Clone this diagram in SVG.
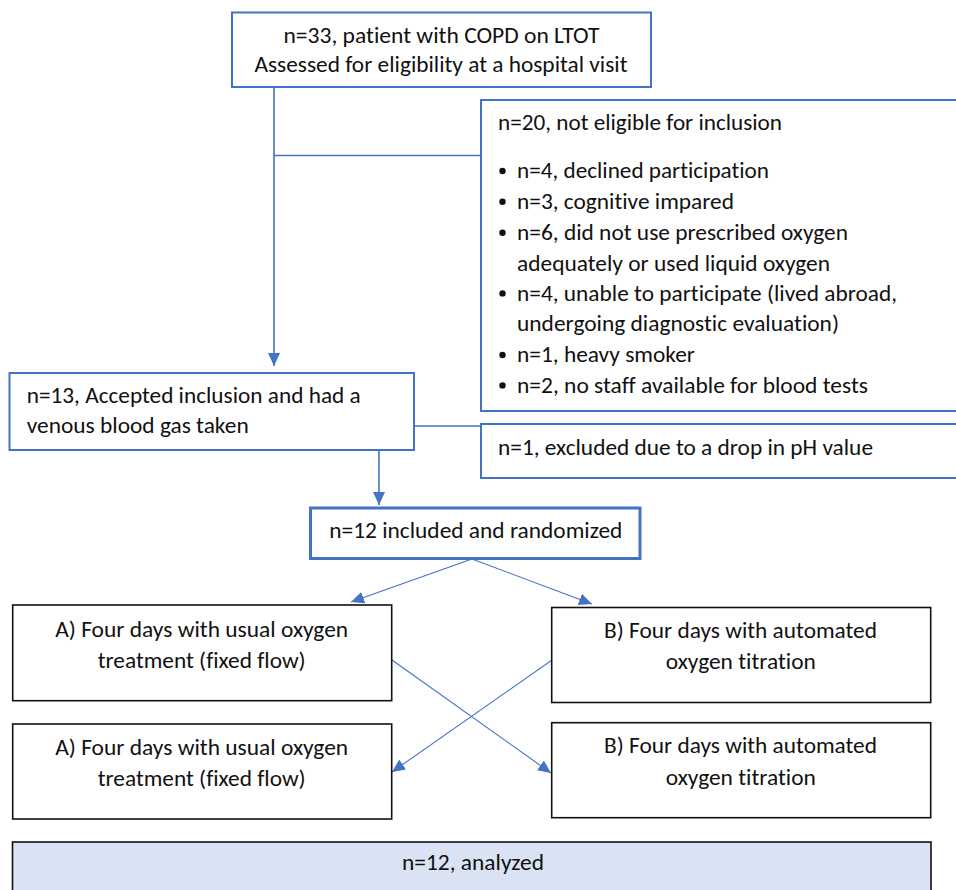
<svg xmlns="http://www.w3.org/2000/svg" width="956" height="890" viewBox="0 0 956 890">
<defs>
<style>
text{font-family:Carlito,Lato,"Liberation Sans",sans-serif;font-size:22.5px;fill:#111;font-variant-ligatures:none}
.bl{fill:#fff;stroke:#4472c4;stroke-width:2}
.bk{fill:#fff;stroke:#111;stroke-width:1.6}
.c{fill:none;stroke:#4472c4;stroke-width:1.6}
.d{fill:none;stroke:#4472c4;stroke-width:1.1}
.m{text-anchor:middle}
</style>
<marker id="ah" markerUnits="userSpaceOnUse" markerWidth="13" markerHeight="12" viewBox="0 0 13 12" refX="13" refY="6" orient="auto">
<path d="M0,0 L13,6 L0,12 Z" fill="#4472c4"/>
</marker>
</defs>
<rect width="956" height="890" fill="#fff"/>

<g id="connectors">
<polyline class="c" points="274,87 274,366" marker-end="url(#ah)"/>
<line class="c" x1="274" y1="155.5" x2="481" y2="155.5"/>
<line class="c" x1="414" y1="426" x2="481" y2="426"/>
<line class="c" x1="379" y1="450" x2="379" y2="505" marker-end="url(#ah)"/>
<line class="d" x1="472" y1="559" x2="351" y2="602" marker-end="url(#ah)"/>
<line class="d" x1="472" y1="559" x2="592" y2="604" marker-end="url(#ah)"/>
<line class="d" x1="392" y1="660" x2="551" y2="773" marker-end="url(#ah)"/>
<line class="d" x1="552" y1="660" x2="392" y2="772" marker-end="url(#ah)"/>
</g>

<g id="assessed">
<rect class="bl" x="232" y="12.5" width="419" height="74.5"/>
<text class="m" x="441.5" y="43" textLength="316" lengthAdjust="spacingAndGlyphs">n=33, patient with COPD on LTOT</text>
<text class="m" x="441" y="72" textLength="373" lengthAdjust="spacingAndGlyphs">Assessed for eligibility at a hospital visit</text>
</g>

<g id="not-eligible">
<rect class="bl" x="481" y="100" width="490" height="311"/>
<text x="498" y="130" textLength="284" lengthAdjust="spacingAndGlyphs">n=20, not eligible for inclusion</text>
<g fill="#111">
<circle cx="502.5" cy="171" r="3.2"/>
<circle cx="502.5" cy="201.7" r="3.2"/>
<circle cx="502.5" cy="232.7" r="3.2"/>
<circle cx="502.5" cy="293.4" r="3.2"/>
<circle cx="502.5" cy="355" r="3.2"/>
<circle cx="502.5" cy="385.4" r="3.2"/>
</g>
<text x="517" y="178.3" textLength="252" lengthAdjust="spacingAndGlyphs">n=4, declined participation</text>
<text x="517" y="209" textLength="217" lengthAdjust="spacingAndGlyphs">n=3, cognitive impared</text>
<text x="517" y="240" textLength="331" lengthAdjust="spacingAndGlyphs">n=6, did not use prescribed oxygen</text>
<text x="517" y="270.5" textLength="313" lengthAdjust="spacingAndGlyphs">adequately or used liquid oxygen</text>
<text x="517" y="300.7" textLength="380" lengthAdjust="spacingAndGlyphs">n=4, unable to participate (lived abroad,</text>
<text x="517" y="331" textLength="322" lengthAdjust="spacingAndGlyphs">undergoing diagnostic evaluation)</text>
<text x="517" y="362.3" textLength="178" lengthAdjust="spacingAndGlyphs">n=1, heavy smoker</text>
<text x="517" y="392.7" textLength="351" lengthAdjust="spacingAndGlyphs">n=2, no staff available for blood tests</text>
</g>

<g id="accepted">
<rect class="bl" x="9.5" y="373" width="404.5" height="77"/>
<text x="26.7" y="403.3" textLength="334" lengthAdjust="spacingAndGlyphs">n=13, Accepted inclusion and had a</text>
<text x="26.7" y="433.3" textLength="222" lengthAdjust="spacingAndGlyphs">venous blood gas taken</text>
</g>

<g id="excluded">
<rect class="bl" x="481" y="424" width="490" height="54"/>
<text x="498" y="455" textLength="375" lengthAdjust="spacingAndGlyphs">n=1, excluded due to a drop in pH value</text>
</g>

<g id="randomized">
<rect x="310.5" y="508" width="329.5" height="50.5" fill="#fff" stroke="#4472c4" stroke-width="3"/>
<text x="329.3" y="538.3" textLength="293" lengthAdjust="spacingAndGlyphs">n=12 included and randomized</text>
</g>

<g id="a1">
<rect class="bk" x="12.7" y="605" width="379" height="95.7"/>
<text class="m" x="201.7" y="637" textLength="293" lengthAdjust="spacingAndGlyphs">A) Four days with usual oxygen</text>
<text class="m" x="201.7" y="667.5" textLength="208" lengthAdjust="spacingAndGlyphs">treatment (fixed flow)</text>
</g>

<g id="b1">
<rect class="bk" x="551.7" y="607.5" width="379" height="95"/>
<text class="m" x="740.5" y="637.7" textLength="273" lengthAdjust="spacingAndGlyphs">B) Four days with automated</text>
<text class="m" x="740.8" y="668.5" textLength="150" lengthAdjust="spacingAndGlyphs">oxygen titration</text>
</g>

<g id="a2">
<rect class="bk" x="12.7" y="724" width="379" height="95"/>
<text class="m" x="201.7" y="755" textLength="293" lengthAdjust="spacingAndGlyphs">A) Four days with usual oxygen</text>
<text class="m" x="201.7" y="786" textLength="208" lengthAdjust="spacingAndGlyphs">treatment (fixed flow)</text>
</g>

<g id="b2">
<rect class="bk" x="551.7" y="722.7" width="379" height="95"/>
<text class="m" x="740.5" y="753" textLength="273" lengthAdjust="spacingAndGlyphs">B) Four days with automated</text>
<text class="m" x="740.8" y="784.5" textLength="150" lengthAdjust="spacingAndGlyphs">oxygen titration</text>
</g>

<g id="analyzed">
<rect x="12.5" y="842" width="918.5" height="60" fill="#dae3f3" stroke="#111" stroke-width="1.6"/>
<text class="m" x="473" y="869.5" textLength="142" lengthAdjust="spacingAndGlyphs">n=12, analyzed</text>
</g>
</svg>
